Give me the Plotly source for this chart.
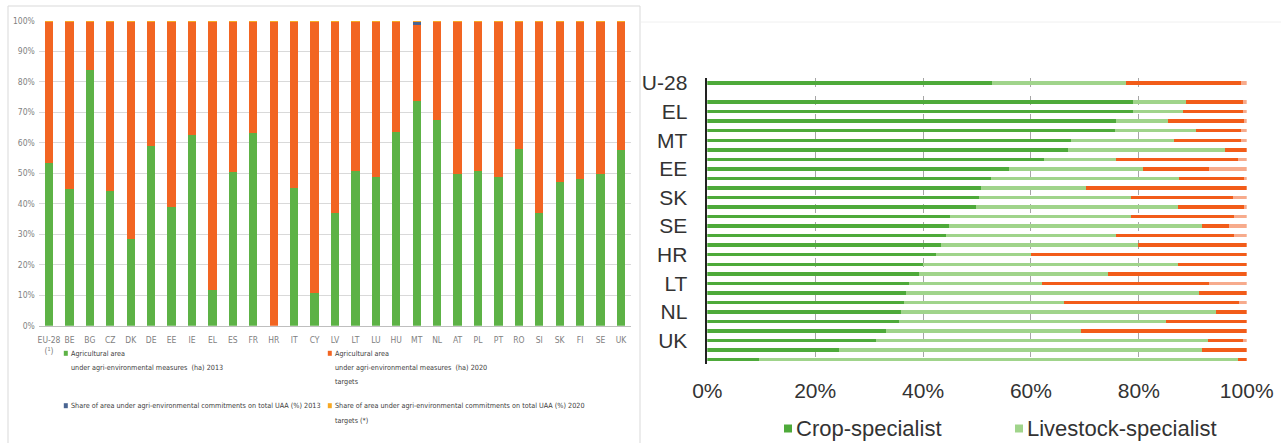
import plotly.graph_objects as go

# ---------------- data: left chart ----------------
left_cats = ["EU-28<br>(¹)", "BE", "BG", "CZ", "DK", "DE", "EE", "IE", "EL", "ES", "FR", "HR", "IT", "CY",
             "LV", "LT", "LU", "HU", "MT", "NL", "AT", "PL", "PT", "RO", "SI", "SK", "FI", "SE", "UK"]
area_2013 = [53.5, 44.8, 83.8, 44.1, 28.4, 59.0, 38.9, 62.7, 11.8, 50.5, 63.3, 0.0, 45.2, 10.7,
             37.1, 50.8, 48.9, 63.7, 73.6, 67.5, 49.9, 50.8, 48.7, 58.0, 36.9, 47.3, 48.0, 49.8, 57.6]
area_2020 = [46.3, 55.0, 16.0, 55.7, 71.4, 40.8, 60.9, 37.1, 88.0, 49.3, 36.5, 99.8, 54.6, 89.1,
             62.7, 49.0, 50.9, 36.1, 25.1, 32.3, 49.9, 49.0, 51.1, 41.8, 62.9, 52.5, 51.8, 50.0, 42.2]
share_2013 = [0.0, 0.0, 0.0, 0.0, 0.0, 0.0, 0.0, 0.0, 0.0, 0.0, 0.0, 0.0, 0.0, 0.0,
              0.0, 0.0, 0.0, 0.0, 1.0, 0.0, 0.0, 0.0, 0.0, 0.0, 0.0, 0.0, 0.0, 0.0, 0.0]
share_2020 = [0.2, 0.2, 0.2, 0.2, 0.2, 0.2, 0.2, 0.2, 0.2, 0.2, 0.2, 0.2, 0.2, 0.2,
              0.2, 0.2, 0.2, 0.2, 0.3, 0.2, 0.2, 0.2, 0.2, 0.2, 0.2, 0.2, 0.2, 0.2, 0.2]

left_legend = [
    ["Agricultural area", "under agri-environmental measures  (ha) 2013"],
    ["Agricultural area", "under agri-environmental measures  (ha) 2020", "targets"],
    ["Share of area under agri-environmental commitments on total UAA (%) 2013"],
    ["Share of area under agri-environmental commitments on total UAA (%) 2020", "targets (*)"],
]

# ---------------- data: right chart ----------------
right_cats = ["EU-28", " ", "CY", "EL", "ES", "IT", "MT", "BG", "PT", "EE", "RO", "HU", "SK", "LV", "CZ",
              "SE", "DK", "FR", "HR", "SI", "PL", "LT", "FI", "DE", "NL", "BE", "AT", "UK", "LU", "IE"]
crop = [52.7, 0.0, 78.9, 78.9, 75.8, 75.5, 67.4, 66.8, 62.5, 56.0, 52.6, 50.7, 50.4, 49.8, 45.0,
        44.9, 44.3, 43.3, 42.4, 39.9, 39.3, 37.4, 36.8, 36.5, 35.9, 35.6, 33.1, 31.3, 24.5, 9.6]
livestock = [24.9, 0.0, 9.8, 9.2, 9.6, 15.1, 19.2, 29.1, 13.3, 24.7, 34.9, 19.5, 28.2, 37.4, 33.6,
             46.9, 31.5, 36.5, 17.7, 47.3, 34.9, 24.6, 54.4, 29.7, 58.4, 49.4, 36.2, 61.5, 67.3, 88.7]
mixed = [21.3, 0.0, 10.6, 11.2, 14.3, 8.3, 12.3, 4.1, 22.5, 12.4, 12.2, 29.8, 18.8, 12.5, 19.1,
         5.0, 21.9, 20.2, 39.9, 12.8, 25.8, 31.1, 8.8, 32.4, 5.7, 15.0, 30.7, 6.5, 8.2, 1.7]
other = [1.1, 0.0, 0.7, 0.7, 0.3, 1.1, 1.1, 0.0, 1.7, 6.9, 0.3, 0.0, 2.6, 0.3, 2.3,
         3.2, 2.3, 0.0, 0.0, 0.0, 0.0, 6.9, 0.0, 1.4, 0.0, 0.0, 0.0, 0.7, 0.0, 0.0]
right_ticktext = ["U-28", "EL", "MT", "EE", "SK", "SE", "HR", "LT", "NL", "UK"]
right_xticks = [0, 20, 40, 60, 80, 100]
right_names = ["Crop-specialist", "Livestock-specialist", "Mixed", "Non-classified"]

# ---------------- styling ----------------
W, H = 1281, 443
def px(x):
    return x / W
def py(y):
    return (H - y) / H

NARROW = "Liberation Sans Narrow, Arial Narrow, DejaVu Sans Condensed, sans-serif"
ARIAL = "Liberation Sans, Arial, sans-serif"

left_colors = ["#5DB246", "#F26522", "#4A6592", "#F7A823"]
right_colors = ["#4EAA3A", "#A0D48B", "#F25C19", "#F7AB8C"]

fig = go.Figure()

left_series = [area_2013, area_2020, share_2013, share_2020]
left_names = [" ".join(t) for t in left_legend]
for vals, col, nm in zip(left_series, left_colors, left_names):
    fig.add_trace(go.Bar(x=left_cats, y=vals, name=nm, marker_color=col, marker_line_width=0,
                         width=0.41, xaxis="x", yaxis="y", showlegend=False))

right_series = [crop, livestock, mixed, other]
for vals, col, nm in zip(right_series, right_colors, right_names):
    fig.add_trace(go.Bar(y=right_cats, x=vals, orientation="h", name=nm, marker_color=col,
                         marker_line_width=0, width=0.36, xaxis="x2", yaxis="y2",
                         showlegend=False))

fig.update_layout(
    width=W, height=H, margin=dict(l=0, r=0, t=0, b=0, autoexpand=False),
    paper_bgcolor="white", plot_bgcolor="white",
    barmode="stack", showlegend=False,
    xaxis=dict(domain=[px(38.8), px(631.2)], type="category", showline=True, linecolor="#bfbfbf",
               linewidth=1, showgrid=False, tickfont=dict(family=NARROW, size=8.5, color="#7f7f7f"),
               tickangle=0, fixedrange=True, ticklabelstandoff=6),
    yaxis=dict(domain=[py(325.7), py(21)], range=[0, 100], dtick=10, ticksuffix="%",
               showgrid=True, gridcolor="#d9d9d9", gridwidth=1, zeroline=False, showline=False,
               tickfont=dict(family=NARROW, size=8.5, color="#7f7f7f"), ticklabelstandoff=3),
    xaxis2=dict(domain=[px(707.3), px(1246.7)], range=[0, 100], tickvals=right_xticks,
                ticktext=[f"{v}%" for v in right_xticks], anchor="y2",
                showgrid=True, gridcolor="#a6a6a6", griddash="dash", gridwidth=1,
                zeroline=False, showline=False,
                tickfont=dict(family=ARIAL, size=21, color="#333333"), ticklabelstandoff=12),
    yaxis2=dict(domain=[py(364.47), py(78.23)], type="category", categoryorder="array",
                categoryarray=right_cats, range=[len(right_cats) - 0.5, -0.5], anchor="x2",
                tickvals=right_cats[::3], ticktext=right_ticktext,
                showline=True, linecolor="#222222", linewidth=1.5, showgrid=False,
                tickfont=dict(family=ARIAL, size=21, color="#333333"), ticklabelstandoff=14),
)

shapes = []
# frame round the left chart
shapes.append(dict(type="rect", xref="paper", yref="paper", x0=px(8), x1=px(640), y0=py(450), y1=py(6),
                   line=dict(color="#d9d9d9", width=1), fillcolor="rgba(0,0,0,0)"))
# faint top line of right panel
shapes.append(dict(type="line", xref="paper", yref="paper", x0=px(641), x1=px(1281), y0=py(22), y1=py(22),
                   line=dict(color="#f0f0f0", width=1)))

annotations = []
# left legend (2 x 2 grid)
legend_pos = [(69.3, 353.3), (333.3, 353.3), (69.3, 405.7), (333.3, 405.7)]
line_step = 14.3
for lines, (lx, ly), col in zip(left_legend, legend_pos, left_colors):
    shapes.append(dict(type="rect", xref="paper", yref="paper", x0=px(lx - 5.5), x1=px(lx - 1.5),
                       y0=py(ly + 2.5), y1=py(ly - 2.5), line=dict(width=0), fillcolor=col))
    for k, t in enumerate(lines):
        annotations.append(dict(text=t, xref="paper", yref="paper", x=px(lx), y=py(ly + k * line_step),
                                xanchor="left", yanchor="middle", showarrow=False,
                                font=dict(family=NARROW, size=7.2, color="#404040")))

# right legend (only the first two entries are visible in the picture)
right_legend_pos = [(794, 428), (1025, 428)]
for nm, col, (lx, ly) in zip(right_names[:2], right_colors[:2], right_legend_pos):
    shapes.append(dict(type="rect", xref="paper", yref="paper", x0=px(lx - 10), x1=px(lx - 2),
                       y0=py(ly + 4.5), y1=py(ly - 3.5), line=dict(width=0), fillcolor=col))
    annotations.append(dict(text=nm, xref="paper", yref="paper", x=px(lx), y=py(ly),
                            xanchor="left", yanchor="middle", showarrow=False,
                            font=dict(family=ARIAL, size=22, color="#333333")))

fig.update_layout(shapes=shapes, annotations=annotations)

fig.write_html("out.html")
